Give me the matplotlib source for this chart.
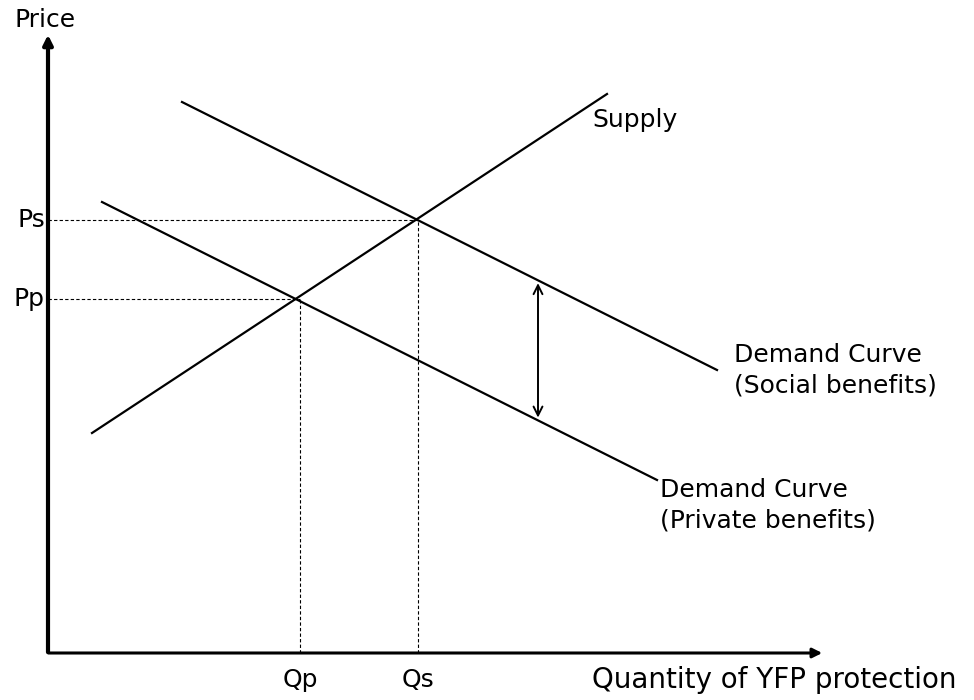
import matplotlib.pyplot as plt

# Schematic market for YFP protection (units: arbitrary, origin at axes corner)
supply_q = [44, 559]
supply_p = [220, 559]
social_q = [134, 669]
social_p = [551, 283]
private_q = [54, 609]
private_p = [451, 173]

q_private, p_private = 252, 354   # Qp, Pp
q_social, p_social = 370, 433     # Qs, Ps
gap_q = 490                       # where the external benefit arrow sits


def line_at(qs, ps, q):
    # price on a straight line through two points
    return ps[0] + (q - qs[0]) * (ps[1] - ps[0]) / (qs[1] - qs[0])


fig = plt.figure(figsize=(9.74, 7), dpi=100)
ax = fig.add_axes([0, 0, 1, 1])
ax.set_xlim(-48, 926)
ax.set_ylim(-47, 653)
ax.axis('off')

# axes with arrows
ax.annotate('', xy=(0, 621), xytext=(0, -2),
            arrowprops=dict(arrowstyle='-|>', lw=3, color='black', mutation_scale=14))
ax.annotate('', xy=(777, 0), xytext=(-2, 0),
            arrowprops=dict(arrowstyle='-|>', lw=2.2, color='black', mutation_scale=14))

# curves
ax.plot(supply_q, supply_p, color='black', lw=1.6)
ax.plot(social_q, social_p, color='black', lw=1.6)
ax.plot(private_q, private_p, color='black', lw=1.6)

# guide lines
dash = dict(color='black', lw=0.8, ls=(0, (3, 2)))
ax.plot([0, q_social], [p_social, p_social], **dash)
ax.plot([q_social, q_social], [0, p_social], **dash)
ax.plot([0, q_private], [p_private, p_private], **dash)
ax.plot([q_private, q_private], [0, p_private], **dash)

# gap between private and social benefits
top = line_at(social_q, social_p, gap_q)
bottom = line_at(private_q, private_p, gap_q)
ax.annotate('', xy=(gap_q, top), xytext=(gap_q, bottom),
            arrowprops=dict(arrowstyle='<->', lw=1.4, color='black', mutation_scale=16))

fs = 18
ax.text(-3, 633, 'Price', fontsize=fs, ha='center', va='center')
ax.text(-3, p_social, 'Ps', fontsize=fs, ha='right', va='center')
ax.text(-3, p_private, 'Pp', fontsize=fs, ha='right', va='center')
ax.text(q_private, -27, 'Qp', fontsize=fs, ha='center', va='center')
ax.text(q_social, -27, 'Qs', fontsize=fs, ha='center', va='center')
ax.text(544, -27, 'Quantity of YFP protection', fontsize=20, ha='left', va='center')
ax.text(544, 533, 'Supply', fontsize=fs, ha='left', va='center')
ax.text(686, 283, 'Demand Curve\n(Social benefits)', fontsize=fs, ha='left', va='center',
        linespacing=1.35)
ax.text(612, 148, 'Demand Curve\n(Private benefits)', fontsize=fs, ha='left', va='center',
        linespacing=1.35)

fig.savefig('out.png', dpi=100)
